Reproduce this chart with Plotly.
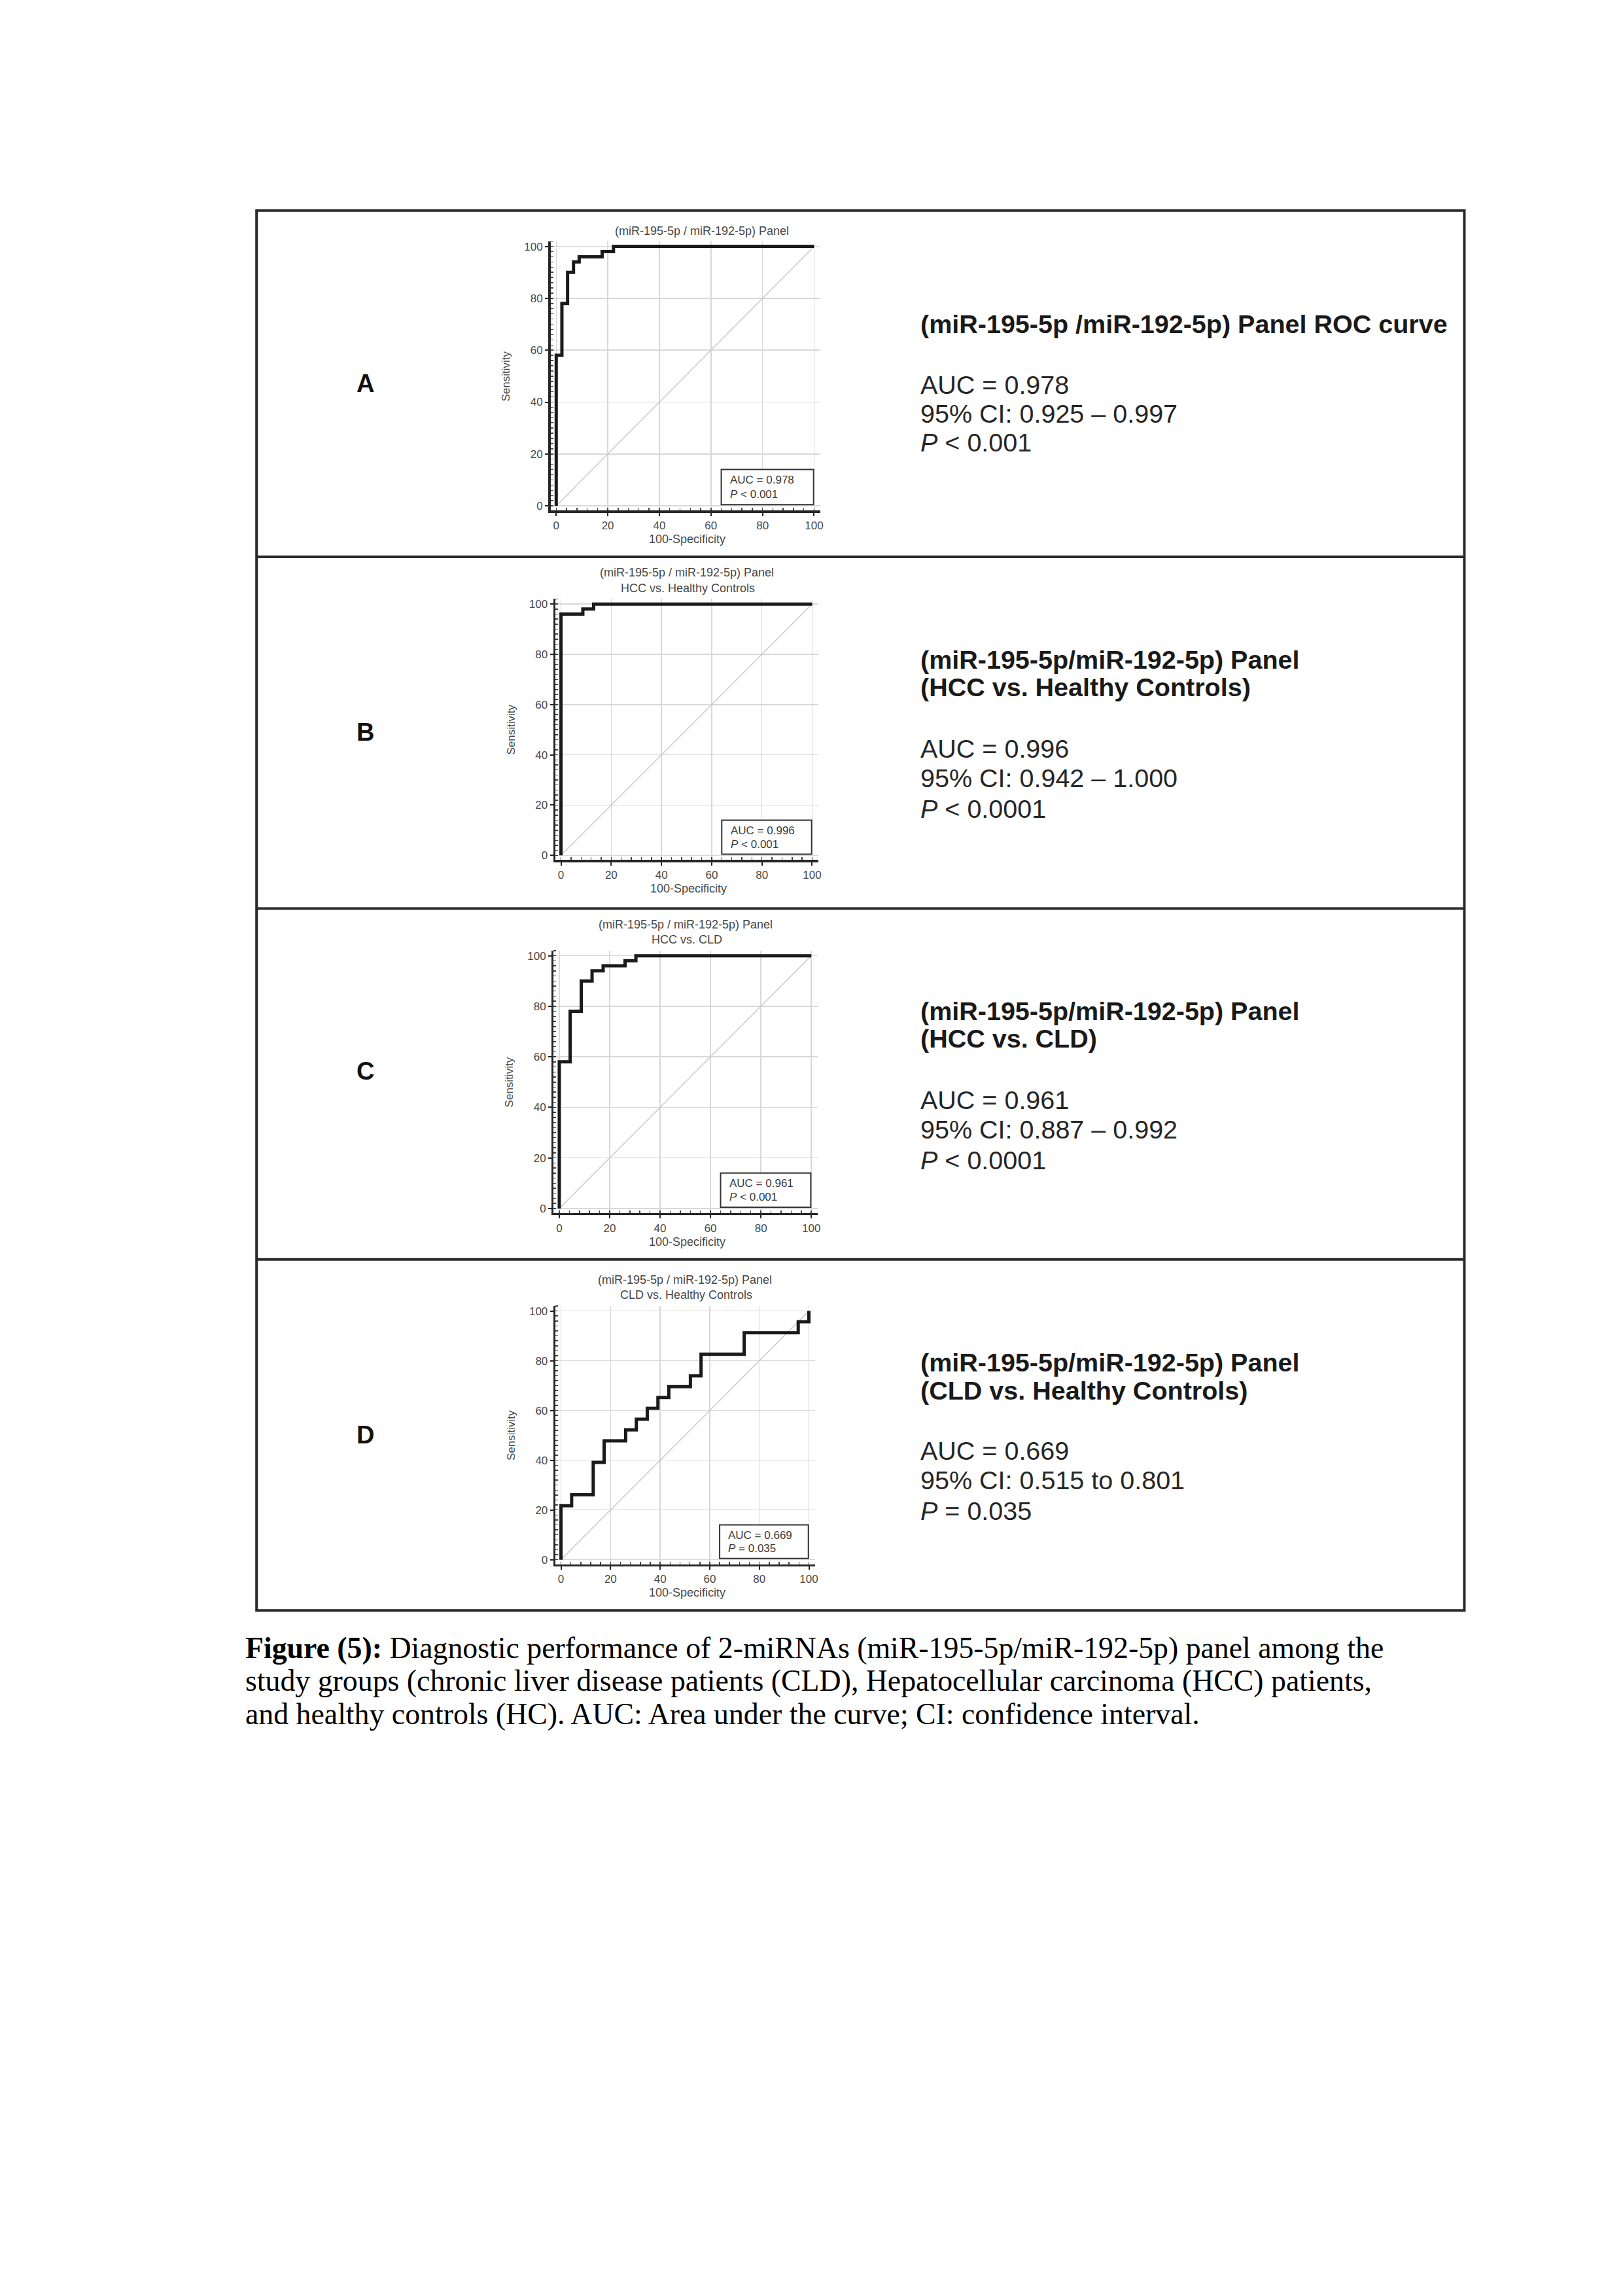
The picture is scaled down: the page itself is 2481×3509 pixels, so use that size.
import plotly.graph_objects as go

# ---------------- data ----------------
panel_ids = ["A", "B", "C", "D"]

# ROC corner points (100-Specificity, Sensitivity), drawn with a vertical-then-horizontal step
fpr_A = [0, 2.2, 4.4, 6.7, 8.9, 17.8, 22.2, 100]
tpr_A = [0, 58, 78, 90, 94, 96, 98, 100]

fpr_B = [0, 8.7, 13.0, 100]
tpr_B = [0, 96, 98, 100]

fpr_C = [0, 4.3, 8.7, 13.0, 17.4, 26.1, 30.4, 100]
tpr_C = [0, 58, 78, 90, 94, 96, 98, 100]

fpr_D = [0, 4.3, 13.0, 17.4, 26.1, 30.4, 34.8, 39.1, 43.5, 52.2, 56.5, 73.9, 95.7, 100, 100]
tpr_D = [0, 21.7, 26.1, 39.1, 47.8, 52.2, 56.5, 60.9, 65.2, 69.6, 73.9, 82.6, 91.3, 95.7, 100]

fprs = [fpr_A, fpr_B, fpr_C, fpr_D]
tprs = [tpr_A, tpr_B, tpr_C, tpr_D]

diag_x = [0, 100]
diag_y = [0, 100]

tick_vals = [0, 20, 40, 60, 80, 100]
tick_text = ["0", "20", "40", "60", "80", "100"]

plot_title_line1 = "(miR-195-5p / miR-192-5p) Panel"
plot_title_line2 = ["", "HCC vs. Healthy Controls", "HCC vs. CLD", "CLD vs. Healthy Controls"]

box_auc = ["AUC = 0.978", "AUC = 0.996", "AUC = 0.961", "AUC = 0.669"]
box_p = ["<i>P</i> &lt; 0.001", "<i>P</i> &lt; 0.001", "<i>P</i> &lt; 0.001", "<i>P</i> = 0.035"]

side_titles = [
    ["(miR-195-5p /miR-192-5p) Panel ROC curve"],
    ["(miR-195-5p/miR-192-5p) Panel", "(HCC vs. Healthy Controls)"],
    ["(miR-195-5p/miR-192-5p) Panel", "(HCC vs. CLD)"],
    ["(miR-195-5p/miR-192-5p) Panel", "(CLD vs. Healthy Controls)"],
]
side_auc = ["AUC = 0.978", "AUC = 0.996", "AUC = 0.961", "AUC = 0.669"]
side_ci = ["95% CI: 0.925 \u2013 0.997", "95% CI: 0.942 \u2013 1.000",
           "95% CI: 0.887 \u2013 0.992", "95% CI: 0.515 to 0.801"]
side_p = ["<i>P</i> &lt; 0.001", "<i>P</i> &lt; 0.0001", "<i>P</i> &lt; 0.0001", "<i>P</i> = 0.035"]

caption_lines = [
    "<b>Figure (5):</b> Diagnostic performance of 2-miRNAs (miR-195-5p/miR-192-5p) panel among the",
    "study groups (chronic liver disease patients (CLD), Hepatocellular carcinoma (HCC) patients,",
    "and healthy controls (HC). AUC: Area under the curve; CI: confidence interval.",
]

# ---------------- layout geometry (pixels on the page) ----------------
W, H = 2481, 3509


def px(x):
    return x / W


def py(y):
    return 1 - y / H


# (pixel of x=0, pixel of x=100, pixel of y=0, pixel of y=100)
geom = [
    (852.0, 1247.0, 773.0, 376.0),
    (859.3, 1244.0, 1307.8, 923.2),
    (856.7, 1242.7, 1848.0, 1461.3),
    (859.3, 1239.0, 2385.4, 2004.9),
]
XR = [-2.2, 102.5]
YR = [-1.8, 102.0]

table_left, table_right = 393, 2243
row_edges = [321, 851, 1389, 1926, 2463]
label_y = [586, 1119, 1638, 2195]
label_x = 560

side_x = 1408
side_rows = [
    dict(titles=[495], auc=588, ci=632, p=676),
    dict(titles=[1008, 1050], auc=1144, ci=1189, p=1236),
    dict(titles=[1546, 1588], auc=1682, ci=1727, p=1774),
    dict(titles=[2083, 2126], auc=2219, ci=2264, p=2311),
]

SANS = "Arial, 'Liberation Sans', sans-serif"
SERIF = "'Times New Roman', 'Liberation Serif', serif"
GRAY_TXT = "#474747"

fig = go.Figure()
annotations = []
shapes = []
layout_axes = {}

for i, pid in enumerate(panel_ids):
    n = "" if i == 0 else str(i + 1)
    x0p, x100p, y0p, y100p = geom[i]
    ux = (x100p - x0p) / 100.0
    uy = (y0p - y100p) / 100.0
    dom_x = [px(x0p + XR[0] * ux), px(x0p + XR[1] * ux)]
    dom_y = [py(y0p - YR[0] * uy), py(y0p - YR[1] * uy)]

    axis_common = dict(
        tickvals=tick_vals, ticktext=tick_text,
        showgrid=True, gridcolor="#d8d8d8", gridwidth=1.5,
        showline=True, linecolor="#262626", linewidth=3.5,
        ticks="outside", ticklen=5, tickwidth=2, tickcolor="#262626",
        tickfont=dict(family=SANS, size=17, color=GRAY_TXT),
        zeroline=False, fixedrange=True,
    )
    layout_axes["xaxis" + n] = dict(
        axis_common, domain=dom_x, range=XR, anchor="y" + n,
        minor=dict(ticks="inside", ticklen=4, tickwidth=1.5, tickcolor="#444", dtick=4, showgrid=False),
    )
    layout_axes["yaxis" + n] = dict(
        axis_common, domain=dom_y, range=YR, anchor="x" + n,
        minor=dict(ticks="inside", ticklen=4, tickwidth=1.5, tickcolor="#444", dtick=2, showgrid=False),
    )

    fig.add_trace(go.Scatter(
        x=diag_x, y=diag_y, mode="lines",
        line=dict(color="#cdcdcd", width=1.6),
        xaxis="x" + n, yaxis="y" + n, hoverinfo="skip",
    ))
    fig.add_trace(go.Scatter(
        x=fprs[i], y=tprs[i], mode="lines",
        line=dict(color="#1a1a1a", width=5, shape="vh"),
        xaxis="x" + n, yaxis="y" + n, hoverinfo="skip",
    ))

    # AUC box inside the plot
    shapes.append(dict(
        type="rect", xref="x" + n, yref="y" + n,
        x0=64.0, x1=99.8, y0=0.5, y1=14.0,
        line=dict(color="#333333", width=2), fillcolor="white", layer="above",
    ))
    annotations.append(dict(
        xref="x" + n, yref="y" + n, x=67.0, y=9.9, text=box_auc[i],
        showarrow=False, xanchor="left", yanchor="middle",
        font=dict(family=SANS, size=17, color="#3a3a3a"),
    ))
    annotations.append(dict(
        xref="x" + n, yref="y" + n, x=67.0, y=4.4, text=box_p[i],
        showarrow=False, xanchor="left", yanchor="middle",
        font=dict(family=SANS, size=17, color="#3a3a3a"),
    ))

    # plot titles
    if plot_title_line2[i]:
        title_items = [(plot_title_line1, y100p - 48, (x0p + x100p) / 2),
                       (plot_title_line2[i], y100p - 24.5, (x0p + x100p) / 2 + 2)]
    else:
        title_items = [(plot_title_line1, y100p - 23.5, (x0p + x100p) / 2 + 26)]
    for txt, yy, xx in title_items:
        annotations.append(dict(
            xref="paper", yref="paper", x=px(xx), y=py(yy), text=txt,
            showarrow=False, xanchor="center", yanchor="middle",
            font=dict(family=SANS, size=18, color=GRAY_TXT),
        ))

    # axis titles
    left_line = x0p + XR[0] * ux
    bottom_line = y0p - YR[0] * uy
    annotations.append(dict(
        xref="paper", yref="paper", x=px(left_line - 68), y=py((y0p + y100p) / 2),
        text="Sensitivity", textangle=-90, showarrow=False,
        xanchor="center", yanchor="middle",
        font=dict(family=SANS, size=17, color=GRAY_TXT),
    ))
    annotations.append(dict(
        xref="paper", yref="paper", x=px((x0p + x100p) / 2 + 3), y=py(bottom_line + 44),
        text="100-Specificity", showarrow=False,
        xanchor="center", yanchor="middle",
        font=dict(family=SANS, size=18, color=GRAY_TXT),
    ))

    # row label
    annotations.append(dict(
        xref="paper", yref="paper", x=px(label_x), y=py(label_y[i]), text="<b>" + pid + "</b>",
        showarrow=False, xanchor="center", yanchor="middle",
        font=dict(family=SANS, size=38, color="#111111"),
    ))

    # side description
    rows = side_rows[i]
    for t, yy in zip(side_titles[i], rows["titles"]):
        annotations.append(dict(
            xref="paper", yref="paper", x=px(side_x), y=py(yy), text="<b>" + t + "</b>",
            showarrow=False, xanchor="left", yanchor="middle",
            font=dict(family=SANS, size=39.5, color="#1a1a1a"),
        ))
    for t, yy in [(side_auc[i], rows["auc"]), (side_ci[i], rows["ci"]), (side_p[i], rows["p"])]:
        annotations.append(dict(
            xref="paper", yref="paper", x=px(side_x), y=py(yy), text=t,
            showarrow=False, xanchor="left", yanchor="middle",
            font=dict(family=SANS, size=39.5, color="#262626"),
        ))

# table borders
shapes.append(dict(
    type="rect", xref="paper", yref="paper",
    x0=px(table_left), x1=px(table_right), y0=py(row_edges[-1]), y1=py(row_edges[0]),
    line=dict(color="#2a2a2a", width=4), fillcolor="rgba(0,0,0,0)", layer="above",
))
for ye in row_edges[1:-1]:
    shapes.append(dict(
        type="line", xref="paper", yref="paper",
        x0=px(table_left), x1=px(table_right), y0=py(ye), y1=py(ye),
        line=dict(color="#2a2a2a", width=4), layer="above",
    ))

# caption
caption_y = [2520, 2570, 2621]
for t, yy in zip(caption_lines, caption_y):
    annotations.append(dict(
        xref="paper", yref="paper", x=px(374), y=py(yy), text=t,
        showarrow=False, xanchor="left", yanchor="middle",
        font=dict(family=SERIF, size=45.8, color="#000000"),
    ))

fig.update_layout(
    width=W, height=H,
    margin=dict(l=0, r=0, t=0, b=0),
    paper_bgcolor="white", plot_bgcolor="white",
    showlegend=False,
    annotations=annotations,
    shapes=shapes,
    **layout_axes,
)

fig.write_html(
    "out.html",
    config={"displayModeBar": False, "staticPlot": True},
    post_script="document.body.style.margin='0';document.body.style.overflow='hidden';",
)
